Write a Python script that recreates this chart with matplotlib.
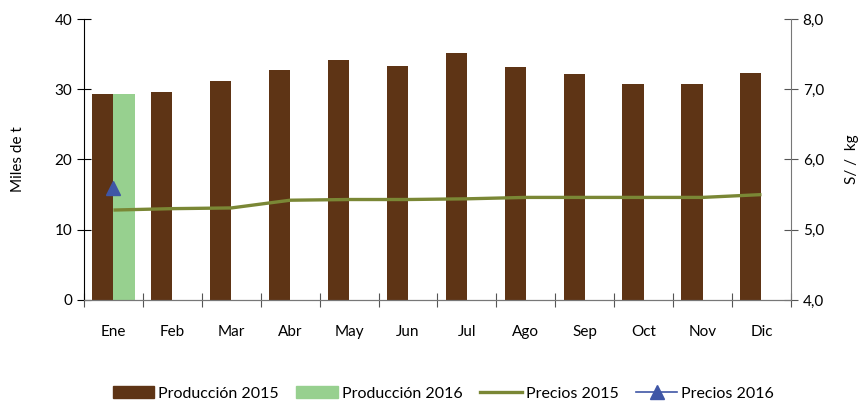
import matplotlib.pyplot as plt
import numpy as np
from matplotlib.lines import Line2D
from matplotlib.patches import Patch

meses = ["Ene", "Feb", "Mar", "Abr", "May", "Jun", "Jul", "Ago", "Sep", "Oct", "Nov", "Dic"]
prod_2015 = [29.3, 29.6, 31.2, 32.7, 34.1, 33.3, 35.1, 33.1, 32.1, 30.7, 30.7, 32.3]
prod_2016 = [29.3]
precios_2015 = [5.28, 5.30, 5.31, 5.42, 5.43, 5.43, 5.44, 5.46, 5.46, 5.46, 5.46, 5.50]
precios_2016 = [5.59]

plt.rcParams['font.family'] = ['Lato', 'DejaVu Sans']

brown = "#5e3415"
green = "#97d08f"
olive = "#7a8735"
blue = "#3f56a6"

fig = plt.figure(figsize=(8.61, 4.01), dpi=100)
ax = fig.add_axes([0.0976, 0.252, 0.821, 0.7006])
ax2 = ax.twinx()

x = np.arange(len(meses))
w = 0.36
ax.bar(x - w / 2, prod_2015, width=w, color=brown, zorder=2)
ax.bar(x[:len(prod_2016)] + w / 2, prod_2016, width=w, color=green, zorder=2)

ax2.plot(x, precios_2015, color=olive, lw=2.4, solid_capstyle='butt')
ax2.plot(x[:len(precios_2016)], precios_2016, color=blue, lw=1.2, marker='^', markersize=10, linestyle='none')

ax.set_xlim(-0.5, len(meses) - 0.5)
ax.set_ylim(0, 40)
ax.set_yticks([0, 10, 20, 30, 40])
ax2.set_ylim(4, 8)
ax2.set_yticks([4, 5, 6, 7, 8])
ax2.set_yticklabels(["4,0", "5,0", "6,0", "7,0", "8,0"])

ax.set_xticks(np.arange(-0.5, len(meses), 1.0))
ax.set_xticklabels([])
ax.set_xticks(x, minor=True)
ax.set_xticklabels(meses, minor=True)
ax.tick_params(axis='x', which='major', direction='inout', length=10, color='#555555')
ax.tick_params(axis='x', which='minor', length=0, pad=18, labelsize=11)
ax.tick_params(axis='y', direction='inout', length=10, labelsize=11)
ax2.tick_params(axis='y', direction='inout', length=10, labelsize=11, color='#555555')

for a in (ax, ax2):
    a.spines['top'].set_visible(False)
ax.spines['right'].set_visible(False)
ax2.spines['left'].set_visible(False)
ax2.spines['right'].set_color('#777777')
ax2.spines['bottom'].set_color('#777777')
ax.spines['bottom'].set_color('#777777')

ax.set_ylabel("Miles de t", fontsize=11, labelpad=21)
ax2.set_ylabel("S/ /  kg", fontsize=11, labelpad=15)

handles = [
    Patch(color=brown, label="Producción 2015"),
    Patch(color=green, label="Producción 2016"),
    Line2D([0], [0], color=olive, lw=2.4, label="Precios 2015"),
    Line2D([0], [0], color=blue, lw=1.2, marker='^', markersize=10, label="Precios 2016"),
]
fig.legend(handles=handles, loc='lower center', bbox_to_anchor=(0.515, -0.035), ncol=4,
           frameon=False, fontsize=11.5, handlelength=2.6, handletextpad=0.25, columnspacing=1.1)

fig.savefig("out.png", dpi=100)
